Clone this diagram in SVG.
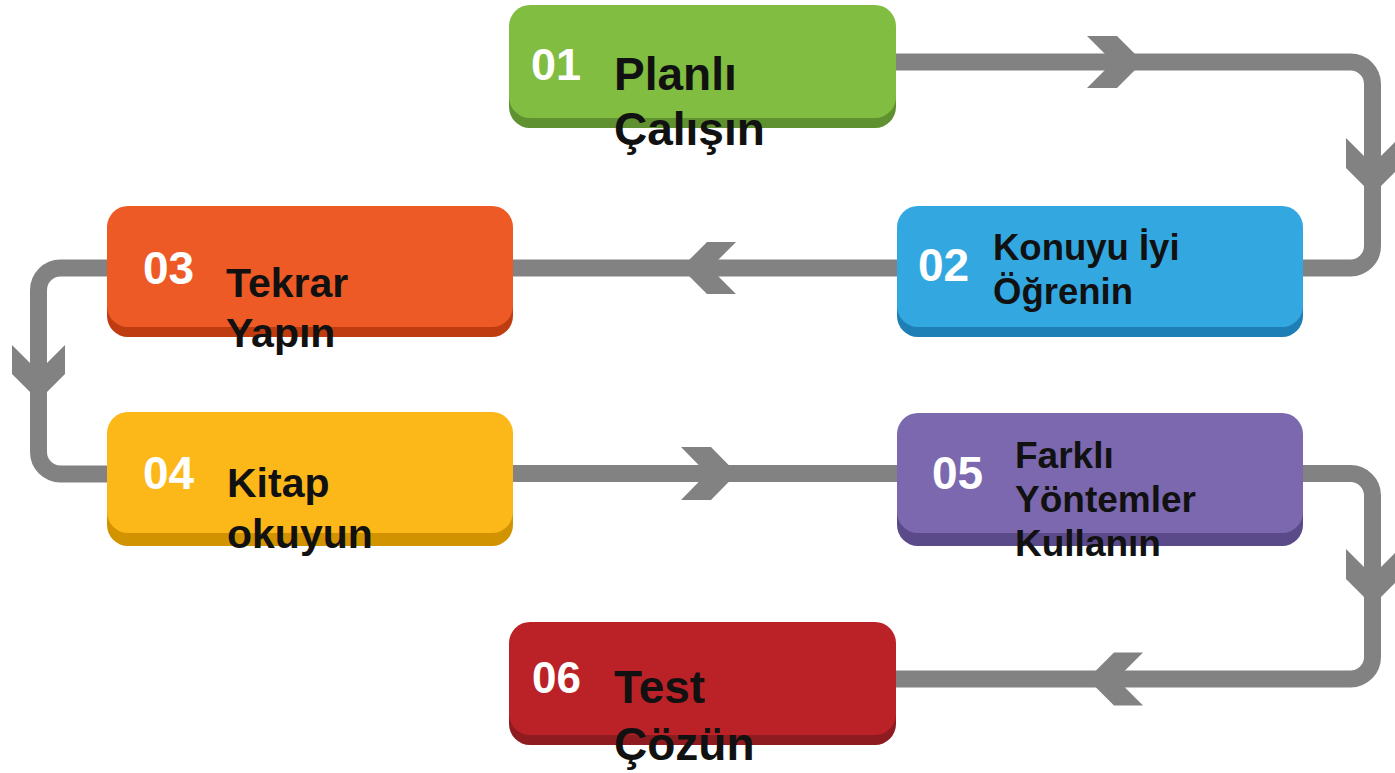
<svg xmlns="http://www.w3.org/2000/svg" width="1395" height="773" viewBox="0 0 1395 773">
<style>
.ln{fill:none;stroke:#828282;stroke-width:17}
.ch{fill:#828282}
.num{font-family:"Liberation Sans",Arial,sans-serif;font-weight:bold;fill:#ffffff}
.lbl{font-family:"Liberation Sans",Arial,sans-serif;font-weight:bold;fill:#111111}
</style>
<rect width="1395" height="773" fill="#ffffff"/>
<g id="connectors">
<path class="ln" d="M 890 62 H 1350.5 A 22 22 0 0 1 1372.5 84 V 246 A 22 22 0 0 1 1350.5 268 H 1295"/>
<path class="ln" d="M 905 268 H 505"/>
<path class="ln" d="M 115 268 H 60.5 A 22 22 0 0 0 38.5 290 V 452 A 22 22 0 0 0 60.5 474 H 115"/>
<path class="ln" d="M 505 473.5 H 905"/>
<path class="ln" d="M 1295 473.5 H 1350.5 A 22 22 0 0 1 1372.5 495.5 V 657 A 22 22 0 0 1 1350.5 679 H 890"/>
<polygon class="ch" points="1087,36 1117,36 1143,62 1117,88 1087,88 1113,62"/>
<polygon class="ch" points="1346,138 1346,168 1372.5,194.5 1399,168 1399,138 1372.5,164.5"/>
<polygon class="ch" points="707,242 736,242 710,268 736,294 707,294 681,268"/>
<polygon class="ch" points="12,345 12,374 38.5,400.5 65,374 65,345 38.5,371.5"/>
<polygon class="ch" points="681,447 711,447 737,473.5 711,500 681,500 707,473.5"/>
<polygon class="ch" points="1346,549 1346,579 1372.5,605.5 1399,579 1399,549 1372.5,575.5"/>
<polygon class="ch" points="1114,652.5 1143,652.5 1116.5,679 1143,705.5 1114,705.5 1087.5,679"/>
</g>
<g id="node01">
<rect x="509" y="15" width="387" height="113" rx="21" fill="#5f9131"/>
<rect x="509" y="5" width="387" height="113" rx="21" fill="#80bd41"/>
<text class="num" x="531" y="80" font-size="45">01</text>
<text class="lbl" x="614" y="90" font-size="46">Planlı</text>
<text class="lbl" x="614" y="145" font-size="46">Çalışın</text>
</g>
<g id="node02">
<rect x="897" y="216" width="406" height="121" rx="21" fill="#1d7fb5"/>
<rect x="897" y="206" width="406" height="121" rx="21" fill="#33a8e0"/>
<text class="num" x="918" y="281" font-size="46">02</text>
<text class="lbl" x="993" y="260" font-size="36.5">Konuyu İyi</text>
<text class="lbl" x="993" y="304" font-size="36.5">Öğrenin</text>
</g>
<g id="node03">
<rect x="107" y="216" width="406" height="121" rx="21" fill="#bf3c10"/>
<rect x="107" y="206" width="406" height="121" rx="21" fill="#ed5a25"/>
<text class="num" x="143" y="284" font-size="46">03</text>
<text class="lbl" x="226" y="297" font-size="41">Tekrar</text>
<text class="lbl" x="226" y="347" font-size="41">Yapın</text>
</g>
<g id="node04">
<rect x="107" y="425" width="406" height="121" rx="21" fill="#d29300"/>
<rect x="107" y="412" width="406" height="121" rx="21" fill="#fcb719"/>
<text class="num" x="143" y="489" font-size="46">04</text>
<text class="lbl" x="227" y="497" font-size="41">Kitap</text>
<text class="lbl" x="227" y="548" font-size="41">okuyun</text>
</g>
<g id="node05">
<rect x="897" y="426" width="406" height="120" rx="21" fill="#5b4a89"/>
<rect x="897" y="413" width="406" height="120" rx="21" fill="#7b68ae"/>
<text class="num" x="932" y="489" font-size="46">05</text>
<text class="lbl" x="1015" y="468" font-size="37">Farklı</text>
<text class="lbl" x="1015" y="512" font-size="37">Yöntemler</text>
<text class="lbl" x="1015" y="556" font-size="37">Kullanın</text>
</g>
<g id="node06">
<rect x="509" y="632" width="387" height="113" rx="21" fill="#8e1b1f"/>
<rect x="509" y="622" width="387" height="113" rx="21" fill="#bb2227"/>
<text class="num" x="532" y="693" font-size="44">06</text>
<text class="lbl" x="614" y="703" font-size="46">Test</text>
<text class="lbl" x="614" y="760" font-size="46">Çözün</text>
</g>
</svg>
